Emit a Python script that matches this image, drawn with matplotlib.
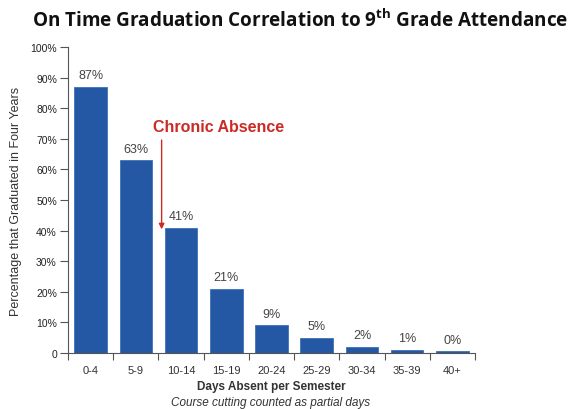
import matplotlib
matplotlib.use('Agg')
import matplotlib.pyplot as plt
from matplotlib import font_manager

categories = ['0-4', '5-9', '10-14', '15-19', '20-24', '25-29', '30-34', '35-39', '40+']
grad_pct = [87, 63, 41, 21, 9, 5, 2, 1, 0.5]
bar_labels = ['87%', '63%', '41%', '21%', '9%', '5%', '2%', '1%', '0%']
yticks = [0, 10, 20, 30, 40, 50, 60, 70, 80, 90, 100]
ytick_labels = ['0', '10%', '20%', '30%', '40%', '50%', '60%', '70%', '80%', '90%', '100%']

names = {f.name for f in font_manager.fontManager.ttflist}
narrow = 'Liberation Sans Narrow' if 'Liberation Sans Narrow' in names else 'Liberation Sans'

plt.rcParams['font.family'] = ['Liberation Sans', 'DejaVu Sans']

fig = plt.figure(figsize=(5.73, 4.10), dpi=100)
ax = fig.add_axes([0.1187, 0.1366, 0.7103, 0.7464])

bar_color = '#2458a4'
x = list(range(len(categories)))
ax.bar(x, grad_pct, width=0.72, color=bar_color, edgecolor='#3f72b8', linewidth=0.6)

for xi, v, lab in zip(x, grad_pct, bar_labels):
    ax.annotate(lab, (xi, v), xytext=(0, 4), textcoords='offset points',
                ha='center', va='bottom', fontsize=9, color='#444444')

ax.set_xlim(-0.5, len(categories) - 0.5)
ax.set_ylim(0, 100)
ax.set_yticks(yticks)
ax.set_yticklabels(ytick_labels, fontsize=7.5, color='#222222')
ax.set_xticks(x)
ax.set_xticklabels(categories, fontsize=8, color='#333333')
ax.tick_params(axis='x', length=0, pad=9)
ax.set_xticks([i - 0.5 for i in range(len(categories) + 1)], minor=True)
ax.tick_params(axis='x', which='minor', length=5, width=0.8, color='#555555', direction='out')
ax.tick_params(axis='y', length=6, width=0.8, color='#555555', pad=2)

for s in ['top', 'right']:
    ax.spines[s].set_visible(False)
for s in ['left', 'bottom']:
    ax.spines[s].set_color('#555555')
    ax.spines[s].set_linewidth(0.8)

ax.set_ylabel('Percentage that Graduated in Four Years', fontsize=9,
              family=narrow, color='#333333', labelpad=6)

# chronic absence marker
ax.annotate('', xy=(1.57, 39.5), xytext=(1.57, 70.5),
            arrowprops=dict(arrowstyle='-|>', color='#cc2a24', lw=1, mutation_scale=8))
ax.text(1.39, 74, 'Chronic Absence', color='#cc2a24', fontsize=11.5,
        fontweight='bold', ha='left', va='center')

fig.text(0.523, 0.948, 'On Time Graduation Correlation to 9$^{\\mathregular{th}}$ Grade Attendance',
         ha='center', va='center', fontsize=13.6, fontweight='bold',
         family=['Open Sans', 'DejaVu Sans'], color='#111111')
fig.text(0.473, 0.056, 'Days Absent per Semester', ha='center', va='center',
         fontsize=8.5, fontweight='bold', color='#333333')
fig.text(0.473, 0.016, 'Course cutting counted as partial days', ha='center', va='center',
         fontsize=8.5, style='italic', color='#333333')

fig.savefig('out.png', dpi=100)
